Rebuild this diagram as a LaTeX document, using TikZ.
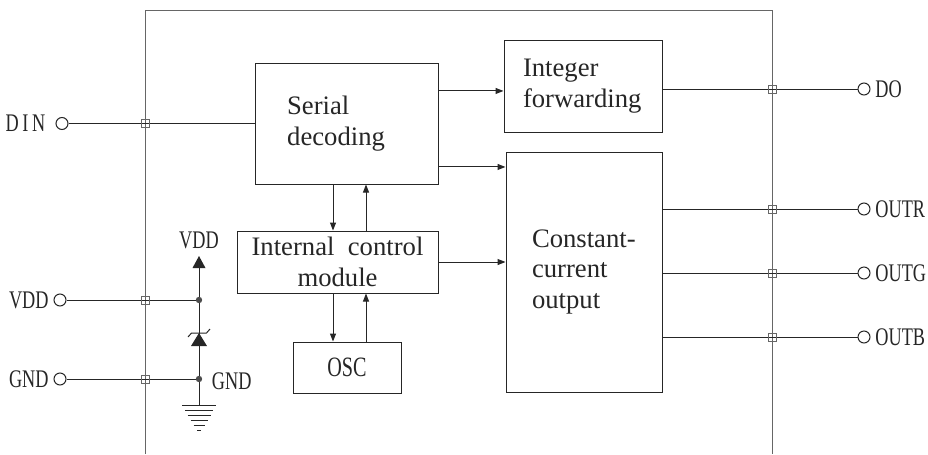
\documentclass[tikz,border=0pt]{standalone}
\usepackage{fontspec}
\setmainfont{Liberation Serif}
\newfontfamily\pinfont[FakeStretch=0.72]{Liberation Serif}
\usetikzlibrary{arrows.meta}
\definecolor{chipgray}{HTML}{666666}

\begin{document}
\begin{tikzpicture}[x=0.75pt, y=-0.75pt, line width=0.75pt, black!85,
    block/.style={draw, rectangle, inner sep=0pt, font=\fontsize{20}{23}\selectfont},
    pin/.style={draw, circle, fill=white, minimum size=9pt, inner sep=0pt},
    pinlabel/.style={font=\pinfont\fontsize{19}{21}\selectfont, text=black!85},
    jsq/.style={draw=chipgray, rectangle, minimum size=6pt, inner sep=0pt, line width=0.6pt},
    arr/.style={-{Triangle[length=6pt, width=4.5pt]}},
    ]
    \useasboundingbox (0,0) rectangle (928,454);
    % chip outline
    \draw[chipgray] (145,454) -- (145,10) -- (772,10) -- (772,454);

    % blocks
    \node[block, minimum width=137.25pt, minimum height=90.75pt, text width=89pt, align=left]
      (serial) at (346.5,123.5) {Serial\\decoding};
    \node[block, minimum width=118.5pt, minimum height=69pt, text width=90pt, align=left]
      (integer) at (583,86) {Integer\\forwarding};
    \node[block, minimum width=117pt, minimum height=180pt, text width=78pt, align=left]
      (constant) at (584,272) {Constant-\\current\\output};
    \node[block, minimum width=150.75pt, minimum height=46.5pt, align=center]
      (internal) at (337.5,262) {Internal\ \ control\\module};
    \node[block, minimum width=81pt, minimum height=38.25pt, font=\pinfont\fontsize{21}{23}\selectfont]
      (osc) at (347,367.5) {OSC};

    % arrows between blocks
    \coordinate (cx1) at (333,0);
    \coordinate (cx2) at (366,0);
    \coordinate (s1) at ([yshift=24.4pt]serial.east);
    \coordinate (s2) at ([yshift=-32.6pt]serial.east);
    \draw[arr] (s1) -- (s1 -| integer.west);
    \draw[arr] (s2) -- (s2 -| constant.west);
    \draw[arr] (internal.east) -- (internal.east -| constant.west);
    \draw[arr] (cx1 |- serial.south) -- (cx1 |- internal.north);
    \draw[arr] (cx2 |- internal.north) -- (cx2 |- serial.south);
    \draw[arr] (cx1 |- internal.south) -- (cx1 |- osc.north);
    \draw[arr] (cx2 |- osc.north) -- (cx2 |- internal.south);

    % input pins
    \node[pin, label={[pinlabel, label distance=4pt]left:{\addfontfeature{LetterSpace=14}DIN}}] (DIN) at (62,123.5) {};
    \node[pin, label={[pinlabel]left:VDD}] (VDD) at (60,300) {};
    \node[pin, label={[pinlabel]left:GND}] (GND) at (60,379) {};
    \coordinate (vj) at (199,300);
    \coordinate (gj) at (199,379);
    \draw (DIN) -- (serial.west);
    \draw (VDD) -- (vj);
    \draw (GND) -- (gj);

    % output pins
    \node[pin, label={[pinlabel]right:DO}] (DO) at (864,89) {};
    \draw (DO) -- (DO -| integer.east);
    \foreach \y/\t in {209/OUTR, 273/OUTG, 337/OUTB} {
      \node[pin, label={[pinlabel]right:\t}] (\t) at (864,\y) {};
      \draw (\t) -- (\t -| constant.east);
    }

    % pad squares on the chip edge
    \foreach \x/\y [count=\i] in {145/123.5, 145/300, 145/379, 772/89, 772/209, 772/273, 772/337}
      \node[jsq] (pad\i) at (\x,\y) {};

    % supply clamp
    \draw (199,258) -- (199,405);
    \fill (199,256) -- (205.5,268) -- (192.5,268) -- cycle;
    \node[pinlabel, anchor=south] (vddlbl) at (199,254) {VDD};
    \fill (199,333) -- (207,346) -- (191,346) -- cycle;
    \draw (188,337) -- (191.5,333) -- (206.5,333) -- (210,329);
    \fill[black!70] (vj) circle (2.4pt) (gj) circle (2.4pt);
    \node[pinlabel, anchor=west] (gndlbl) at (207,381) {GND};
    % ground
    \foreach \i/\w in {0/17, 1/14, 2/11.5, 3/8.5, 4/5.5, 5/2}
      \draw[line width=0.6pt] ({199-\w},{405+5*\i}) -- ({199+\w},{405+5*\i});
\end{tikzpicture}
\end{document}
